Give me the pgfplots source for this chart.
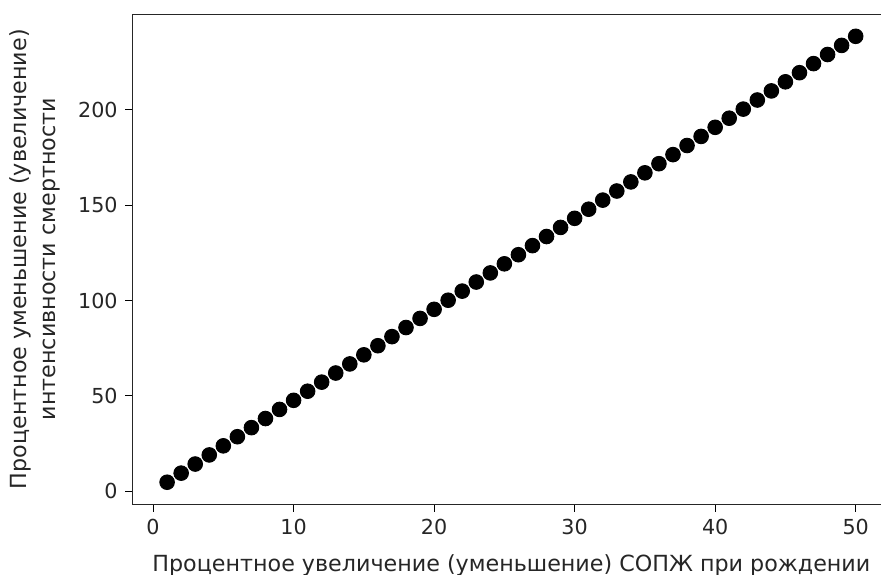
\documentclass[border=0pt]{standalone}
\usepackage{fontspec}
\setmainfont{DejaVu Sans}
\usepackage{pgfplots}
\pgfplotsset{compat=1.18}
\begin{document}
\fontsize{9.3}{11.2}\selectfont
\begin{tikzpicture}
\begin{axis}[
  at={(0,0)}, anchor=south west,
  scale only axis,
  width=340.8pt, height=220.7pt,
  xmin=-1.45, xmax=52.45,
  ymin=-6.9, ymax=250.2,
  xtick={0,10,20,30,40,50},
  ytick={0,50,100,150,200},
  tick align=outside,
  major tick length=3.3pt,
  tick style={black, line width=0.4pt},
  xtick pos=bottom, ytick pos=left,
  axis line style={line width=0.4pt, black!85},
  /pgf/number format/assume math mode=true,
  tick label style={font=\fontsize{9.3}{11.2}\selectfont, text=black!85},
  xticklabel style={anchor=north, inner sep=0pt, yshift=-3.3pt},
  yticklabel style={anchor=east, inner sep=0pt, xshift=-3.3pt},
  xlabel={Процентное увеличение (уменьшение) СОПЖ при рождении},
  ylabel={Процентное уменьшение (увеличение)\\интенсивности смертности},
  every axis x label/.style={at={(axis description cs:0.5,0)}, anchor=north, inner sep=0pt, yshift=-22.3pt, font=\fontsize{10}{12}\selectfont, text=black!85},
  every axis y label/.style={at={(axis description cs:0,0.5)}, rotate=90, anchor=south, inner sep=0pt, yshift=32.3pt, align=center, font=\fontsize{10}{13}\selectfont, text=black!85},
]
\addplot[only marks, mark=*, mark size=3.3pt, black] table {
x y
1 4.77
2 9.54
3 14.31
4 19.08
5 23.85
6 28.62
7 33.39
8 38.16
9 42.93
10 47.70
11 52.47
12 57.24
13 62.01
14 66.78
15 71.55
16 76.32
17 81.09
18 85.86
19 90.63
20 95.40
21 100.17
22 104.94
23 109.71
24 114.48
25 119.25
26 124.02
27 128.79
28 133.56
29 138.33
30 143.10
31 147.87
32 152.64
33 157.41
34 162.18
35 166.95
36 171.72
37 176.49
38 181.26
39 186.03
40 190.80
41 195.57
42 200.34
43 205.11
44 209.88
45 214.65
46 219.42
47 224.19
48 228.96
49 233.73
50 238.50
};
\end{axis}
\pgfresetboundingbox
\useasboundingbox (-59.7pt,-31.7pt) rectangle (336.7pt,227.0pt);
\end{tikzpicture}
\end{document}
